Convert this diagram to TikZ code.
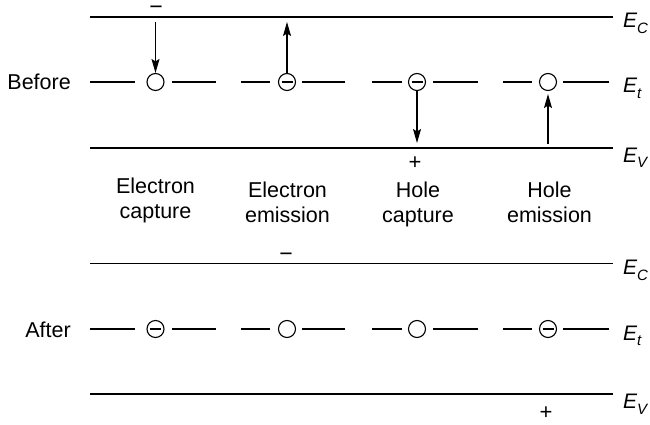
\documentclass[tikz,border=0pt]{standalone}
\usepackage{fontspec}
\setmainfont{Liberation Sans}
\usetikzlibrary{arrows.meta}
\tikzset{
  band/.style={line width=1.5pt},
  trapline/.style={line width=1.1pt},
  arr/.style={line width=1.1pt,-{Stealth[length=14pt,width=8pt,inset=2.5pt]}},
  trap/.style={circle,draw,line width=1.1pt,minimum size=17pt,inner sep=0pt},
  occ/.style={trap,path picture={\draw[line width=1.1pt]
      ([xshift=-5.5pt]path picture bounding box.center) --
      ([xshift=5.5pt]path picture bounding box.center);}},
  lbl/.style={font=\fontsize{21.5}{25}\selectfont,inner sep=0pt},
  elbl/.style={font=\fontsize{21}{25}\selectfont\itshape,inner sep=0pt,anchor=base west},
  sign/.style={font=\fontsize{22}{24}\selectfont,inner sep=0pt},
  minus/.style={sign,font=\fontsize{23}{24}\selectfont,anchor=base},
}
\newcommand{\Elab}[1]{E\raisebox{-5.5pt}{\fontsize{15}{15}\selectfont #1}}
\begin{document}
\begin{tikzpicture}[x=1pt,y=-1pt]
\useasboundingbox (0,0) rectangle (650,425);
% ---------- bands ----------
\foreach \nm/\y in {tc/17,tv/148,bc/263.5,bv/394}{
  \coordinate (\nm L) at (90,\y);
  \coordinate (\nm R) at (613,\y);
  \draw[band] (\nm L) -- (\nm R);
}
% labels of bands
\node[elbl] (ECt) at (623,28) {\Elab{C}};
\node[elbl] (Ett) at (623,93) {\Elab{t}};
\node[elbl] (EVt) at (623,162) {\Elab{V}};
\node[elbl] (ECb) at (623,274.5) {\Elab{C}};
\node[elbl] (Etb) at (623,340) {\Elab{t}};
\node[elbl] (EVb) at (623,408.5) {\Elab{V}};
% ---------- traps ----------
\foreach \pre/\y in {t/82,b/329}{
  \foreach \i/\a/\b/\c/\d/\e in {1/90/135/155.5/172/216, 2/241/270/287/302/345, 3/372/402/417/433/478, 4/503/532/548/563/609}{
    \coordinate (\pre\i a) at (\a,\y);
    \coordinate (\pre\i b) at (\b,\y);
    \coordinate (\pre\i d) at (\d,\y);
    \coordinate (\pre\i e) at (\e,\y);
    \draw[trapline] (\pre\i a) -- (\pre\i b);
    \draw[trapline] (\pre\i d) -- (\pre\i e);
  }
}
\node[trap] (t1) at (155.5,82) {};
\node[occ]  (t2) at (287,82) {};
\node[occ]  (t3) at (417,82) {};
\node[trap] (t4) at (548,82) {};
\node[occ]  (b1) at (155.5,329) {};
\node[trap] (b2) at (287,329) {};
\node[trap] (b3) at (417,329) {};
\node[occ]  (b4) at (548,329) {};
% ---------- arrows ----------
\coordinate (a1) at (155.5,22);
\coordinate (a2) at (287,22);
\coordinate (a3) at (417,143);
\coordinate (a4) at (548,144);
\draw[arr] (a1) -- (t1.north);
\draw[arr] (t2.north) -- (a2);
\draw[arr] (t3.south) -- (a3);
\draw[arr,shorten >=3pt] (a4) -- (t4.south);
% ---------- signs ----------
\node[minus] (m1) at (156,15) {−};
\node[sign] (p1) at (415,163) {+};
\node[minus] (m2) at (286,261.5) {−};
\node[sign] (p2) at (546,413) {+};
% ---------- side labels ----------
\node[lbl,anchor=east] (before) at (71,82) {Before};
\node[lbl,anchor=east] (after) at (71,329.5) {After};
% ---------- process labels ----------
\node[lbl,align=center,anchor=north] (ec) at (155.5,178) {Electron\\capture};
\node[lbl,align=center,anchor=north] (ee) at (287.5,182) {Electron\\emission};
\node[lbl,align=center,anchor=north] (hc) at (418,182) {Hole\\capture};
\node[lbl,align=center,anchor=north] (he) at (549.5,182) {Hole\\emission};
\end{tikzpicture}
\end{document}
